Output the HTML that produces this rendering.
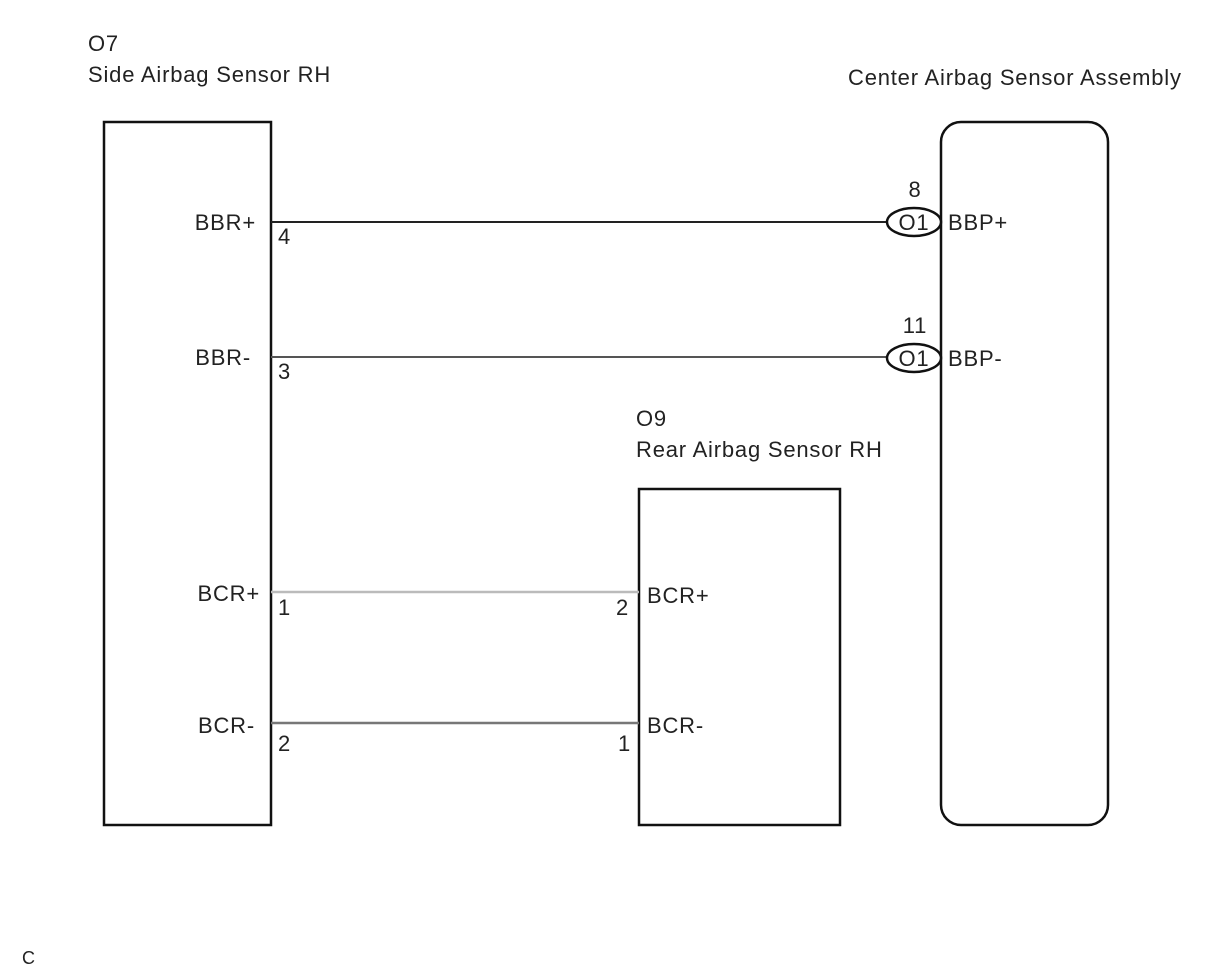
<!DOCTYPE html>
<html><head><meta charset="utf-8"><style>
html,body{margin:0;padding:0;background:#fff;}
svg text{font-family:"Liberation Sans",sans-serif;font-size:22px;letter-spacing:0.8px;fill:#222;}
</style></head><body>
<svg width="1220" height="974" viewBox="0 0 1220 974" xmlns="http://www.w3.org/2000/svg">
<rect x="0" y="0" width="1220" height="974" fill="#fff"/>
<text x="88" y="51">O7</text>
<text x="88" y="82">Side Airbag Sensor RH</text>
<text x="848" y="85">Center Airbag Sensor Assembly</text>
<text x="636" y="426">O9</text>
<text x="636" y="457">Rear Airbag Sensor RH</text>
<text x="22" y="964" style="font-size:18px">C</text>

<rect x="104" y="122" width="167" height="703" fill="none" stroke="#111" stroke-width="2.5"/>
<rect x="639" y="489" width="201" height="336" fill="none" stroke="#111" stroke-width="2.5"/>
<rect x="941" y="122" width="167" height="703" rx="20" ry="20" fill="none" stroke="#111" stroke-width="2.5"/>

<line x1="271" y1="222" x2="887" y2="222" stroke="#222" stroke-width="2"/>
<line x1="271" y1="357" x2="887" y2="357" stroke="#555" stroke-width="2"/>
<line x1="271" y1="592" x2="639" y2="592" stroke="#bbb" stroke-width="2.5"/>
<line x1="271" y1="723" x2="639" y2="723" stroke="#777" stroke-width="2.5"/>

<ellipse cx="914" cy="222" rx="27" ry="14" fill="#fff" stroke="#111" stroke-width="2.5"/>
<ellipse cx="914" cy="358" rx="27" ry="14" fill="#fff" stroke="#111" stroke-width="2.5"/>
<text x="914" y="230" text-anchor="middle">O1</text>
<text x="914" y="366" text-anchor="middle">O1</text>
<text x="915" y="197" text-anchor="middle">8</text>
<text x="915" y="333" text-anchor="middle">11</text>
<text x="948" y="230">BBP+</text>
<text x="948" y="366">BBP-</text>

<text x="256" y="230" text-anchor="end">BBR+</text>
<text x="251" y="365" text-anchor="end">BBR-</text>
<text x="260" y="601" text-anchor="end">BCR+</text>
<text x="255" y="733" text-anchor="end">BCR-</text>
<text x="278" y="244">4</text>
<text x="278" y="379">3</text>
<text x="278" y="615">1</text>
<text x="278" y="751">2</text>
<text x="616" y="615">2</text>
<text x="618" y="751">1</text>
<text x="647" y="603">BCR+</text>
<text x="647" y="733">BCR-</text>
</svg>
</body></html>
